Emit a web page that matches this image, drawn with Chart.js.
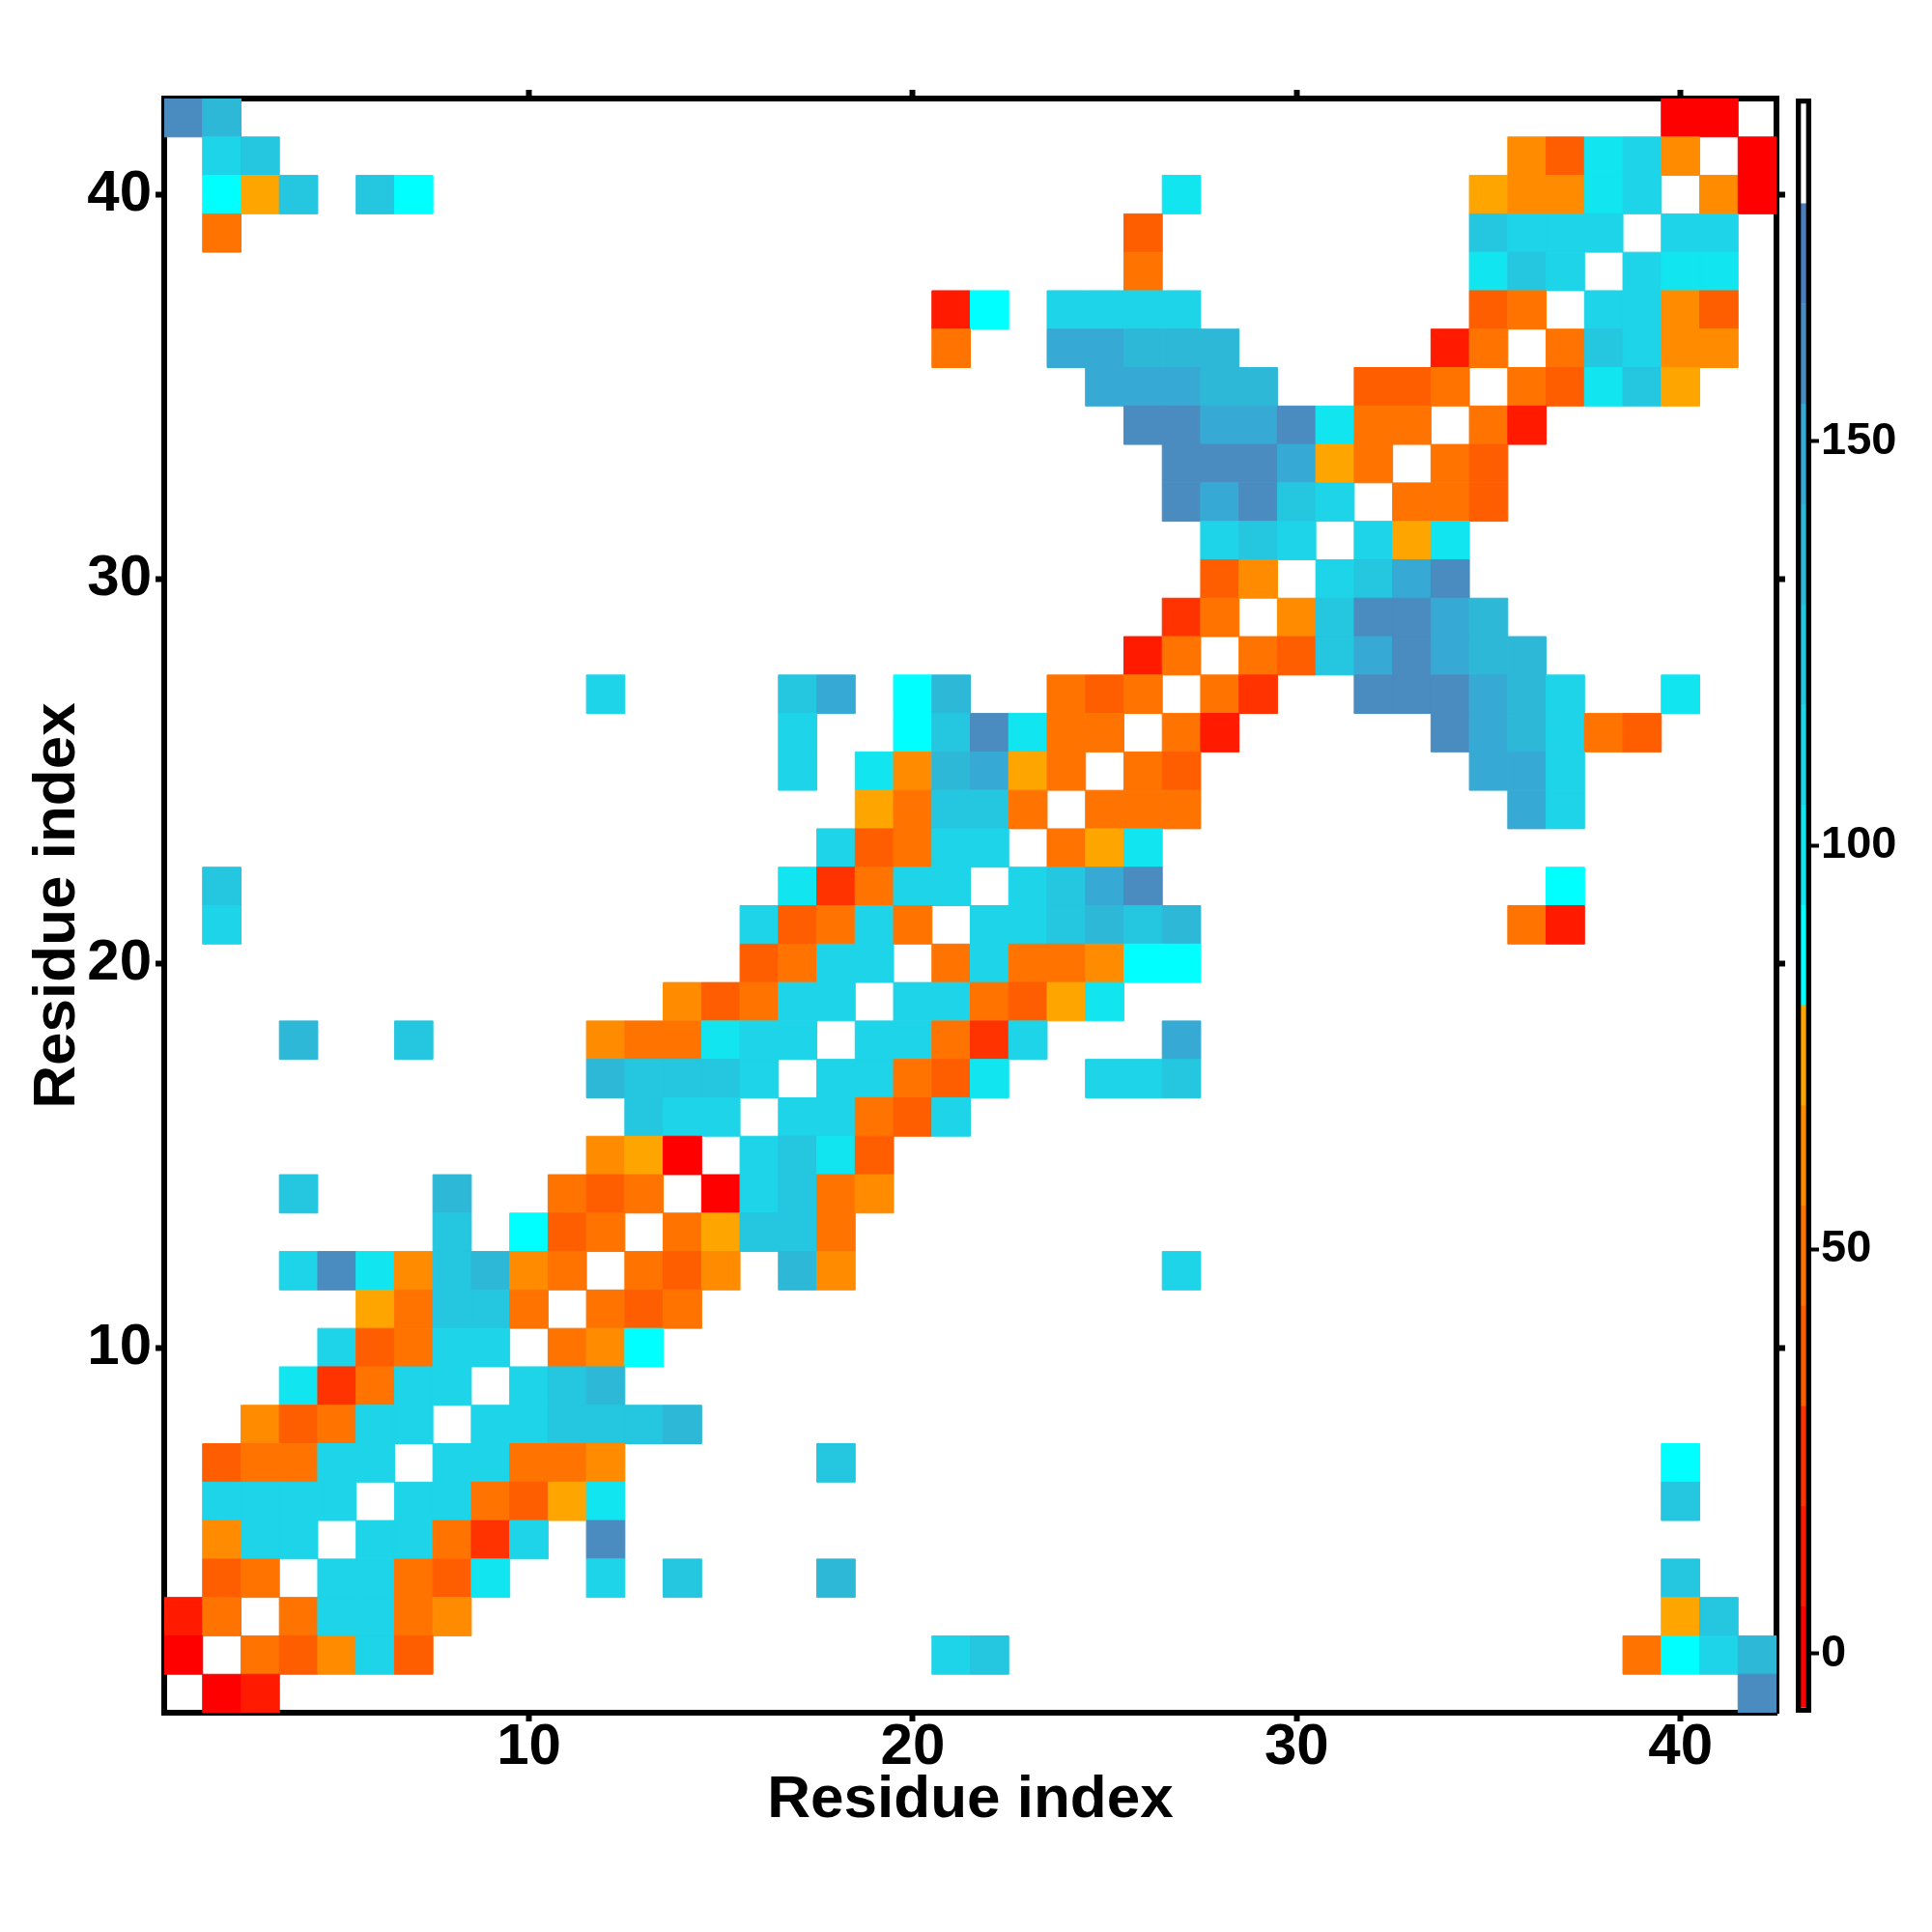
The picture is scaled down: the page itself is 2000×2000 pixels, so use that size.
<!DOCTYPE html>
<html>
<head>
<meta charset="utf-8">
<script src="https://cdn.jsdelivr.net/npm/chart.js@4/dist/chart.umd.min.js"></script>
<style>
  html, body { margin: 0; padding: 0; background: #fff; }
  #heat { position: absolute; left: 0; top: 0; }
  #bar { position: absolute; left: 1840px; top: 0; }
</style>
</head>
<body>
<canvas id="heat" width="2000" height="2000"></canvas>
<canvas id="bar" width="160" height="2000"></canvas>
<script>
const _ = null;

// residue numbers on both axes
const residues = [1,2,3,4,5,6,7,8,9,10,11,12,13,14,15,16,17,18,19,20,21,
                  22,23,24,25,26,27,28,29,30,31,32,33,34,35,36,37,38,39,40,41,42];
const axisTicks = [10, 20, 30, 40];
const barTicks = [0, 50, 100, 150];

// colour bar: band edges (bottom to top) and their colours
const bandEdges = [-6.6, 5.8, 18.2, 30.6, 43.0, 55.4, 67.8, 80.2, 92.6, 105.0,
                   117.4, 129.8, 142.2, 154.6, 167.0, 179.4, 191.8];
const bandColors = ['#ff0000', '#ff1a00', '#ff3300', '#ff5e00', '#ff7400', '#ff8c00',
                    '#ffa500', '#00ffff', '#10e5f0', '#1ed4e8', '#24c6e0', '#2eb8d8',
                    '#36aad4', '#4a8cc0', '#4a7fbe', '#ffffff'];
const barMin = -7.3;
const barMax = 192.4;

// one row per residue, top row = residue 42, columns = residue 1..42
const angleRows = [
  [161,136,_,_,_,_,_,_,_,_,  _,_,_,_,_,_,_,_,_,_,  _,_,_,_,_,_,_,_,_,_,  _,_,_,_,_,_,_,_,_,0,  0,_],
  [_,111,123,_,_,_,_,_,_,_,  _,_,_,_,_,_,_,_,_,_,  _,_,_,_,_,_,_,_,_,_,  _,_,_,_,_,61,36,98,111,61,  _,0],
  [_,86,74,123,_,123,86,_,_,_,  _,_,_,_,_,_,_,_,_,_,  _,_,_,_,_,_,98,_,_,_,  _,_,_,_,74,61,61,98,111,_,  61,0],
  [_,49,_,_,_,_,_,_,_,_,  _,_,_,_,_,_,_,_,_,_,  _,_,_,_,_,36,_,_,_,_,  _,_,_,_,123,111,111,111,_,111,  111,_],
  [_,_,_,_,_,_,_,_,_,_,  _,_,_,_,_,_,_,_,_,_,  _,_,_,_,_,49,_,_,_,_,  _,_,_,_,98,123,111,_,111,98,  98,_],
  [_,_,_,_,_,_,_,_,_,_,  _,_,_,_,_,_,_,_,_,_,  11,86,_,111,111,111,111,_,_,_,  _,_,_,_,36,49,_,111,111,61,  36,_],
  [_,_,_,_,_,_,_,_,_,_,  _,_,_,_,_,_,_,_,_,_,  49,_,_,148,148,136,136,136,_,_,  _,_,_,11,49,_,49,123,111,61,  61,_],
  [_,_,_,_,_,_,_,_,_,_,  _,_,_,_,_,_,_,_,_,_,  _,_,_,_,148,148,148,136,136,_,  _,36,36,49,_,49,36,98,123,74,  _,_],
  [_,_,_,_,_,_,_,_,_,_,  _,_,_,_,_,_,_,_,_,_,  _,_,_,_,_,161,161,148,148,161,  98,49,49,_,49,11,_,_,_,_,  _,_],
  [_,_,_,_,_,_,_,_,_,_,  _,_,_,_,_,_,_,_,_,_,  _,_,_,_,_,_,161,161,161,148,  74,49,_,49,36,_,_,_,_,_,  _,_],
  [_,_,_,_,_,_,_,_,_,_,  _,_,_,_,_,_,_,_,_,_,  _,_,_,_,_,_,161,148,161,123,  111,_,49,49,36,_,_,_,_,_,  _,_],
  [_,_,_,_,_,_,_,_,_,_,  _,_,_,_,_,_,_,_,_,_,  _,_,_,_,_,_,_,111,123,111,  _,111,74,98,_,_,_,_,_,_,  _,_],
  [_,_,_,_,_,_,_,_,_,_,  _,_,_,_,_,_,_,_,_,_,  _,_,_,_,_,_,_,36,61,_,  111,123,148,161,_,_,_,_,_,_,  _,_],
  [_,_,_,_,_,_,_,_,_,_,  _,_,_,_,_,_,_,_,_,_,  _,_,_,_,_,_,24,49,_,61,  123,161,161,148,136,_,_,_,_,_,  _,_],
  [_,_,_,_,_,_,_,_,_,_,  _,_,_,_,_,_,_,_,_,_,  _,_,_,_,_,11,49,_,49,36,  123,148,161,148,136,136,_,_,_,_,  _,_],
  [_,_,_,_,_,_,_,_,_,_,  _,111,_,_,_,_,123,148,_,86,  136,_,_,49,36,49,_,49,24,_,  _,161,161,161,148,136,111,_,_,98,  _,_],
  [_,_,_,_,_,_,_,_,_,_,  _,_,_,_,_,_,111,_,_,86,  123,161,98,49,49,_,49,11,_,_,  _,_,_,161,148,136,111,49,36,_,  _,_],
  [_,_,_,_,_,_,_,_,_,_,  _,_,_,_,_,_,111,_,98,61,  136,148,74,49,_,49,36,_,_,_,  _,_,_,_,148,148,111,_,_,_,  _,_],
  [_,_,_,_,_,_,_,_,_,_,  _,_,_,_,_,_,_,_,74,49,  123,123,49,_,49,49,49,_,_,_,  _,_,_,_,_,148,111,_,_,_,  _,_],
  [_,_,_,_,_,_,_,_,_,_,  _,_,_,_,_,_,_,111,36,49,  111,111,_,49,74,98,_,_,_,_,  _,_,_,_,_,_,_,_,_,_,  _,_],
  [_,123,_,_,_,_,_,_,_,_,  _,_,_,_,_,_,98,24,49,111,  111,_,111,123,148,161,_,_,_,_,  _,_,_,_,_,_,86,_,_,_,  _,_],
  [_,111,_,_,_,_,_,_,_,_,  _,_,_,_,_,111,36,49,111,49,  _,111,111,123,136,123,136,_,_,_,  _,_,_,_,_,49,11,_,_,_,  _,_],
  [_,_,_,_,_,_,_,_,_,_,  _,_,_,_,_,36,49,111,111,_,  49,111,49,49,61,86,86,_,_,_,  _,_,_,_,_,_,_,_,_,_,  _,_],
  [_,_,_,_,_,_,_,_,_,_,  _,_,_,61,36,49,111,111,_,111,  111,49,36,74,98,_,_,_,_,_,  _,_,_,_,_,_,_,_,_,_,  _,_],
  [_,_,_,136,_,_,123,_,_,_,  _,61,49,49,98,111,111,_,111,111,  49,24,111,_,_,_,148,_,_,_,  _,_,_,_,_,_,_,_,_,_,  _,_],
  [_,_,_,_,_,_,_,_,_,_,  _,136,123,123,123,111,_,111,111,49,  36,98,_,_,111,111,123,_,_,_,  _,_,_,_,_,_,_,_,_,_,  _,_],
  [_,_,_,_,_,_,_,_,_,_,  _,_,123,111,111,_,111,111,49,36,  111,_,_,_,_,_,_,_,_,_,  _,_,_,_,_,_,_,_,_,_,  _,_],
  [_,_,_,_,_,_,_,_,_,_,  _,61,74,0,_,111,123,98,36,_,  _,_,_,_,_,_,_,_,_,_,  _,_,_,_,_,_,_,_,_,_,  _,_],
  [_,_,_,123,_,_,_,136,_,_,  49,36,49,_,0,111,123,49,61,_,  _,_,_,_,_,_,_,_,_,_,  _,_,_,_,_,_,_,_,_,_,  _,_],
  [_,_,_,_,_,_,_,123,_,86,  36,49,_,49,74,123,123,49,_,_,  _,_,_,_,_,_,_,_,_,_,  _,_,_,_,_,_,_,_,_,_,  _,_],
  [_,_,_,111,161,98,61,123,136,61,  49,_,49,36,61,_,136,61,_,_,  _,_,_,_,_,_,111,_,_,_,  _,_,_,_,_,_,_,_,_,_,  _,_],
  [_,_,_,_,_,74,49,123,123,49,  _,49,36,49,_,_,_,_,_,_,  _,_,_,_,_,_,_,_,_,_,  _,_,_,_,_,_,_,_,_,_,  _,_],
  [_,_,_,_,111,36,49,111,111,_,  49,61,86,_,_,_,_,_,_,_,  _,_,_,_,_,_,_,_,_,_,  _,_,_,_,_,_,_,_,_,_,  _,_],
  [_,_,_,98,24,49,111,111,_,111,  123,136,_,_,_,_,_,_,_,_,  _,_,_,_,_,_,_,_,_,_,  _,_,_,_,_,_,_,_,_,_,  _,_],
  [_,_,61,36,49,111,111,_,111,111,  123,123,123,136,_,_,_,_,_,_,  _,_,_,_,_,_,_,_,_,_,  _,_,_,_,_,_,_,_,_,_,  _,_],
  [_,36,49,49,111,111,_,111,111,49,  49,61,_,_,_,_,_,123,_,_,  _,_,_,_,_,_,_,_,_,_,  _,_,_,_,_,_,_,_,_,86,  _,_],
  [_,111,111,111,111,_,111,111,49,36,  74,98,_,_,_,_,_,_,_,_,  _,_,_,_,_,_,_,_,_,_,  _,_,_,_,_,_,_,_,_,123,  _,_],
  [_,61,111,111,_,111,111,49,24,111,  _,161,_,_,_,_,_,_,_,_,  _,_,_,_,_,_,_,_,_,_,  _,_,_,_,_,_,_,_,_,_,  _,_],
  [_,36,49,_,111,111,49,36,98,_,  _,111,_,123,_,_,_,136,_,_,  _,_,_,_,_,_,_,_,_,_,  _,_,_,_,_,_,_,_,_,123,  _,_],
  [11,49,_,49,111,111,49,61,_,_,  _,_,_,_,_,_,_,_,_,_,  _,_,_,_,_,_,_,_,_,_,  _,_,_,_,_,_,_,_,_,74,  123,_],
  [0,_,49,36,61,111,36,_,_,_,  _,_,_,_,_,_,_,_,_,_,  111,123,_,_,_,_,_,_,_,_,  _,_,_,_,_,_,_,_,49,86,  111,136],
  [_,0,11,_,_,_,_,_,_,_,  _,_,_,_,_,_,_,_,_,_,  _,_,_,_,_,_,_,_,_,_,  _,_,_,_,_,_,_,_,_,_,  _,161]
];

Chart.defaults.font.family = "'Liberation Sans', Arial, Helvetica, sans-serif";
Chart.defaults.font.weight = 'bold';
Chart.defaults.color = '#000';

function colorFor(v) {
  if (v === null || v === undefined) return 'rgba(0,0,0,0)';
  for (let k = 0; k < bandColors.length; k++) {
    if (v < bandEdges[k + 1]) return bandColors[k];
  }
  return bandColors[bandColors.length - 1];
}

const cells = [];
angleRows.forEach((row, i) => {
  const y = residues[residues.length - 1 - i];
  row.forEach((v, j) => {
    if (v !== null) cells.push({ x: residues[j], y: y, v: v });
  });
});

function cellRadius(chart) {
  const s = chart.scales.x;
  if (!s) return 0;
  return Math.abs(s.getPixelForValue(1) - s.getPixelForValue(0)) / Math.SQRT2;
}

const fixedTicks = list => scale => { scale.ticks = list.map(v => ({ value: v })); };
const lo = residues[0] - 0.5;
const hi = residues[residues.length - 1] + 0.5;

const gridOpts = { drawOnChartArea: false, drawTicks: true, tickLength: 9, tickWidth: 6, tickColor: '#000' };
const borderOpts = { display: true, width: 6, color: '#000' };
const tickFont = { size: 60, weight: 'bold', lineHeight: 1 };
const titleFont = { size: 62, weight: 'bold', lineHeight: 1.2 };

new Chart(document.getElementById('heat'), {
  type: 'scatter',
  data: {
    datasets: [{
      data: cells,
      showLine: false,
      pointStyle: 'rect',
      pointRadius: ctx => cellRadius(ctx.chart),
      pointHoverRadius: ctx => cellRadius(ctx.chart),
      pointBackgroundColor: ctx => colorFor(ctx.raw ? ctx.raw.v : null),
      pointBorderColor: ctx => colorFor(ctx.raw ? ctx.raw.v : null),
      pointBorderWidth: 1
    }]
  },
  options: {
    responsive: false,
    animation: false,
    events: [],
    layout: { padding: { left: 0, top: 102, right: 161, bottom: 0 } },
    plugins: { legend: { display: false }, tooltip: { enabled: false } },
    scales: {
      x: {
        type: 'linear', position: 'bottom', min: lo, max: hi, z: 1,
        afterBuildTicks: fixedTicks(axisTicks),
        afterFit: s => { s.height = 227; },
        grid: gridOpts, border: borderOpts,
        ticks: { font: tickFont, color: '#000', padding: -3, maxRotation: 0, autoSkip: false },
        title: { display: true, text: 'Residue index', font: titleFont, color: '#000', padding: 99 }
      },
      xTop: {
        type: 'linear', position: 'top', min: lo, max: hi, z: 1,
        afterBuildTicks: fixedTicks(axisTicks),
        afterFit: s => { s.height = 0; },
        grid: gridOpts, border: borderOpts,
        ticks: { display: false }
      },
      y: {
        type: 'linear', position: 'left', min: lo, max: hi, z: 1,
        afterBuildTicks: fixedTicks(axisTicks),
        afterFit: s => { s.width = 170; },
        grid: gridOpts, border: borderOpts,
        ticks: { font: tickFont, color: '#000', padding: 4, autoSkip: false },
        title: { display: true, text: 'Residue index', font: titleFont, color: '#000', padding: 23 }
      },
      yRight: {
        type: 'linear', position: 'right', min: lo, max: hi, z: 1,
        afterBuildTicks: fixedTicks(axisTicks),
        afterFit: s => { s.width = 0; },
        grid: gridOpts, border: borderOpts,
        ticks: { display: false }
      }
    }
  }
});

// colour bar: frame first (drawn on top), then one floating bar per band
const bandSets = bandColors.map((c, k) => ({
  data: [[bandEdges[k], bandEdges[k + 1]]],
  backgroundColor: c,
  borderWidth: 0
}));

new Chart(document.getElementById('bar'), {
  type: 'bar',
  data: {
    labels: [''],
    datasets: [{
      data: [[barMin, barMax]],
      backgroundColor: 'rgba(0,0,0,0)',
      borderColor: '#000',
      borderWidth: 5,
      borderSkipped: false
    }].concat(bandSets)
  },
  options: {
    responsive: false,
    animation: false,
    events: [],
    layout: { padding: { left: 19, top: 102, right: 0, bottom: 227 } },
    datasets: { bar: { grouped: false, barPercentage: 1, categoryPercentage: 1 } },
    plugins: { legend: { display: false }, tooltip: { enabled: false } },
    scales: {
      x: { display: false },
      y: {
        position: 'right', min: barMin, max: barMax,
        afterBuildTicks: fixedTicks(barTicks),
        afterFit: s => { s.width = 125; },
        grid: { drawOnChartArea: false, drawTicks: true, tickLength: 8, tickWidth: 4, tickColor: '#000' },
        border: { display: false },
        ticks: { font: { size: 47, weight: 'bold', lineHeight: 1 }, color: '#000', padding: 2 }
      }
    }
  }
});
</script>
</body>
</html>
